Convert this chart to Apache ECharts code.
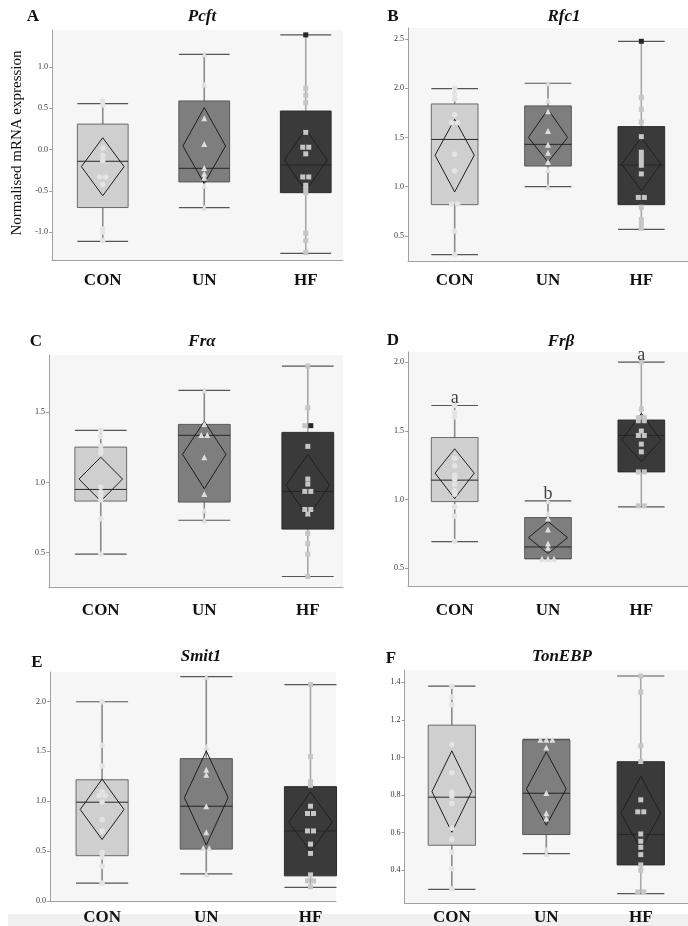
<!DOCTYPE html>
<html>
<head>
<meta charset="utf-8">
<script src="https://cdn.jsdelivr.net/npm/echarts@6/dist/echarts.min.js"></script>
<style>
  html, body { margin: 0; padding: 0; background: #ffffff; }
  #chart { width: 688px; height: 926px; }
</style>
</head>
<body>
<div id="chart"></div>
<script>
// Groups and panel titles
const groups = ['CON', 'UN', 'HF'];
const panelLetters = ['A', 'B', 'C', 'D', 'E', 'F'];
const geneNames = ['Pcft', 'Rfc1', 'Frα', 'Frβ', 'Smit1', 'TonEBP'];
const yAxisTitle = 'Normalised mRNA expression';

// Box statistics per group: [lower whisker, Q1, median, Q3, upper whisker]
const boxA = [[-1.11, -0.70, -0.14, 0.31, 0.557], [-0.70, -0.39, -0.225, 0.59, 1.155], [-1.255, -0.52, -0.185, 0.468, 1.39]];
const boxB = [[0.31, 0.818, 1.48, 1.84, 1.995], [1.0, 1.21, 1.43, 1.82, 2.05], [0.568, 0.818, 1.22, 1.61, 2.476]];
const boxC = [[0.488, 0.867, 0.95, 1.252, 1.371], [0.73, 0.86, 1.336, 1.414, 1.657], [0.329, 0.667, 0.936, 1.357, 1.83]];
const boxD = [[0.694, 0.985, 1.141, 1.451, 1.684], [0.57, 0.57, 0.655, 0.869, 0.99], [0.947, 1.201, 1.466, 1.578, 2.0]];
const boxE = [[0.179, 0.454, 0.99, 1.215, 1.997], [0.271, 0.52, 0.95, 1.427, 2.248], [0.136, 0.252, 0.702, 1.146, 2.169]];
const boxF = [[0.297, 0.532, 0.788, 1.172, 1.38], [0.487, 0.589, 0.809, 1.092, 1.096], [0.274, 0.427, 0.59, 0.977, 1.434]];

// Mean diamonds per group: [lower 95% CI, mean, upper 95% CI]
const meanA = [[-0.557, -0.205, 0.145], [-0.41, 0.045, 0.51], [-0.50, -0.125, 0.25]];
const meanB = [[0.947, 1.32, 1.685], [1.25, 1.50, 1.786], [0.96, 1.23, 1.50]];
const meanC = [[0.867, 1.024, 1.18], [0.955, 1.2, 1.436], [0.752, 0.979, 1.2]];
const meanD = [[1.007, 1.192, 1.369], [0.607, 0.723, 0.84], [1.277, 1.432, 1.626]];
const meanE = [[0.616, 0.917, 1.222], [0.56, 1.036, 1.503], [0.497, 0.791, 1.093]];
const meanF = [[0.601, 0.818, 1.035], [0.638, 0.832, 1.03], [0.512, 0.702, 0.9]];

// Individual samples per group (CON, UN, HF)
const ptsA = [
  [0.59, 0.54, 0.02, -0.07, -0.13, -0.33, -0.33, -0.42, -0.96, -1.0, -1.10],
  [1.155, 0.79, 0.38, 0.07, -0.22, -0.29, -0.34, -0.44, -0.70],
  [1.39, 0.745, 0.66, 0.57, 0.21, 0.03, 0.03, -0.05, -0.33, -0.33, -0.43, -0.47, -0.52, -1.01, -1.10, -1.245]
];
const ptsB = [
  [1.996, 1.94, 1.89, 1.73, 1.65, 1.65, 1.33, 1.16, 0.825, 0.825, 0.55, 0.31],
  [2.05, 1.874, 1.766, 1.566, 1.427, 1.346, 1.25, 1.17, 1.0],
  [2.476, 1.904, 1.786, 1.656, 1.508, 1.35, 1.305, 1.26, 1.218, 1.13, 0.891, 0.891, 0.792, 0.668, 0.625, 0.577]
];
const ptsC = [
  [1.371, 1.33, 1.26, 1.23, 1.21, 0.965, 0.93, 0.907, 0.874, 0.74, 0.488],
  [1.657, 1.417, 1.338, 1.338, 1.18, 0.917, 0.80, 0.73],
  [1.83, 1.533, 1.405, 1.405, 1.257, 1.024, 0.988, 0.936, 0.936, 0.807, 0.807, 0.774, 0.636, 0.564, 0.488, 0.329]
];
const ptsD = [
  [1.684, 1.633, 1.60, 1.30, 1.245, 1.177, 1.148, 1.109, 1.063, 1.039, 0.947, 0.879, 0.694],
  [0.99, 0.898, 0.862, 0.782, 0.68, 0.65, 0.57, 0.57, 0.57],
  [2.0, 1.658, 1.595, 1.595, 1.573, 1.573, 1.498, 1.466, 1.466, 1.403, 1.347, 1.201, 1.201, 0.954, 0.954]
];
const ptsE = [
  [1.997, 1.56, 1.354, 1.096, 1.056, 1.056, 0.993, 0.815, 0.702, 0.487, 0.44, 0.348, 0.179],
  [2.248, 1.546, 1.315, 1.265, 0.95, 0.689, 0.53, 0.53, 0.271],
  [2.169, 1.447, 1.195, 1.159, 0.95, 0.877, 0.877, 0.702, 0.702, 0.57, 0.477, 0.262, 0.202, 0.202, 0.142]
];
const ptsF = [
  [1.38, 1.322, 1.281, 1.069, 0.918, 0.816, 0.795, 0.754, 0.622, 0.565, 0.494, 0.407, 0.30],
  [1.094, 1.094, 1.094, 1.053, 0.811, 0.702, 0.674, 0.507, 0.487],
  [1.434, 1.348, 1.062, 0.978, 0.774, 0.71, 0.71, 0.592, 0.553, 0.521, 0.482, 0.427, 0.398, 0.283, 0.283]
];

// Samples flagged in the HF group (drawn dark): [panel index, value]
const flaggedHF = [[0, 1.39], [1, 2.476], [2, 1.405]];

// Significance letters above the Frβ groups
const lettersD = ['a', 'b', 'a'];

// Y tick labels per panel
const ticksA = [-1.0, -0.5, 0.0, 0.5, 1.0];
const ticksB = [0.5, 1.0, 1.5, 2.0, 2.5];
const ticksC = [0.5, 1.0, 1.5];
const ticksD = [0.5, 1.0, 1.5, 2.0];
const ticksE = [0.0, 0.5, 1.0, 1.5, 2.0];
const ticksF = [0.4, 0.6, 0.8, 1.0, 1.2, 1.4];

const boxStats = [boxA, boxB, boxC, boxD, boxE, boxF];
const meanCI = [meanA, meanB, meanC, meanD, meanE, meanF];
const samples = [ptsA, ptsB, ptsC, ptsD, ptsE, ptsF];
const yTicks = [ticksA, ticksB, ticksC, ticksD, ticksE, ticksF];

// Panel geometry and axis ranges
const layout = [
  { left: 52,  top: 30,  width: 291,   height: 230, xMax: 2.867, yMin: -1.335, yMax: 1.449, catMargin: 12, letter: [33, 17],  title: [202, 17] },
  { left: 408, top: 28,  width: 307.5, height: 233, xMax: 3,     yMin: 0.246,  yMax: 2.611, catMargin: 11, letter: [393, 17], title: [564, 17] },
  { left: 49,  top: 355, width: 294,   height: 232, xMax: 2.84,  yMin: 0.254,  yMax: 1.909, catMargin: 15, letter: [36, 342], title: [202, 342] },
  { left: 408, top: 352, width: 307.5, height: 234, xMax: 3,     yMin: 0.371,  yMax: 2.073, catMargin: 16, letter: [393, 341], title: [561, 342] },
  { left: 50,  top: 672, width: 286,   height: 231, xMax: 2.745, yMin: 0,      yMax: 2.295, catMargin: 8,  letter: [37, 663], title: [201, 657] },
  { left: 404.6, top: 670, width: 316, height: 233, xMax: 3,     yMin: 0.224,  yMax: 1.466, catMargin: 6,  letter: [391, 659], title: [562, 657] }
];

const SERIF = '"Liberation Serif", "Times New Roman", Times, serif';
const boxFills = ['#cfcfcf', '#7e7e7e', '#3a3a3a'];
const boxEdges = ['#6a6a6a', '#585858', '#2c2c2c'];
const stemColors = ['#8a8a8a', '#8a8a8a', '#a8a8a8'];
const pointFills = ['#e4e4e4', '#dedede', '#c6c6c6'];
const pointSymbols = ['circle', 'triangle', 'rect'];
const pointSizes = [5.5, 6, 5];
const axisGray = '#a0a0a0';

// Box, whiskers, median and mean diamond drawn from the axis scales
function renderBox(params, api) {
  const x = api.value(0);
  const lo = api.value(1), q1 = api.value(2), med = api.value(3), q3 = api.value(4), hi = api.value(5);
  const ciLo = api.value(6), mean = api.value(7), ciHi = api.value(8);
  const gi = params.dataIndex;
  const unit = api.size([1, 0])[0];
  const half = unit * 0.25;
  const dHalf = unit * 0.21;
  const cx = api.coord([x, mean])[0];
  const y = v => api.coord([x, v])[1];
  return {
    type: 'group',
    children: [
      { type: 'line', shape: { x1: cx, y1: y(hi), x2: cx, y2: y(lo) },
        style: { stroke: stemColors[gi], lineWidth: 1.6 } },
      { type: 'rect', shape: { x: cx - half, y: y(q3), width: half * 2, height: y(q1) - y(q3) },
        style: { fill: boxFills[gi], stroke: boxEdges[gi], lineWidth: 1 } },
      { type: 'line', shape: { x1: cx - half, y1: y(med), x2: cx + half, y2: y(med) },
        style: { stroke: '#262626', lineWidth: 1 } },
      { type: 'polygon', shape: { points: [[cx, y(ciHi)], [cx + dHalf, y(mean)], [cx, y(ciLo)], [cx - dHalf, y(mean)]] },
        style: { fill: 'transparent', stroke: '#1e1e1e', lineWidth: 1 } },
      { type: 'line', shape: { x1: cx - half, y1: y(hi), x2: cx + half, y2: y(hi) },
        style: { stroke: '#555555', lineWidth: 1.2 } },
      { type: 'line', shape: { x1: cx - half, y1: y(lo), x2: cx + half, y2: y(lo) },
        style: { stroke: '#555555', lineWidth: 1.2 } }
    ]
  };
}

// Spread tied values side by side
function samplePoints(p, gi) {
  const vals = samples[p][gi];
  const counts = {};
  vals.forEach(v => { counts[v] = (counts[v] || 0) + 1; });
  const seen = {};
  return vals.map(v => {
    const n = counts[v];
    const k = seen[v] || 0;
    seen[v] = k + 1;
    const off = (k - (n - 1) / 2) * 6;
    const flagged = gi === 2 && k === n - 1 && flaggedHF.some(f => f[0] === p && f[1] === v);
    const item = { value: [gi + 0.5, v], symbolOffset: [off, 0] };
    if (flagged) item.itemStyle = { color: '#262626' };
    return item;
  });
}

const grids = [], xAxes = [], yAxes = [], series = [], graphics = [];

layout.forEach((L, p) => {
  grids.push({ left: L.left, top: L.top, width: L.width, height: L.height,
    show: true, backgroundColor: '#f6f6f6', borderWidth: 0, containLabel: false });

  xAxes.push({
    type: 'value', gridIndex: p, min: 0, max: L.xMax,
    axisLine: { show: true, onZero: false, lineStyle: { color: axisGray, width: 1 } },
    axisTick: { show: false },
    splitLine: { show: false },
    axisLabel: {
      customValues: [0.5, 1.5, 2.5],
      formatter: v => groups[Math.floor(v)],
      fontFamily: SERIF, fontWeight: 'bold', fontSize: 17, color: '#111111',
      margin: L.catMargin
    }
  });

  yAxes.push({
    type: 'value', gridIndex: p, min: L.yMin, max: L.yMax,
    axisLine: { show: true, lineStyle: { color: axisGray, width: 1 } },
    axisTick: { show: true, length: 3, customValues: yTicks[p], lineStyle: { color: axisGray } },
    splitLine: { show: false },
    axisLabel: {
      customValues: yTicks[p],
      formatter: v => v.toFixed(1),
      fontFamily: SERIF, fontSize: 8, color: '#333333', margin: 4
    }
  });

  series.push({
    type: 'custom', xAxisIndex: p, yAxisIndex: p, silent: true, z: 2,
    renderItem: renderBox,
    encode: { x: 0, y: [1, 2, 3, 4, 5] },
    data: groups.map((g, gi) => [gi + 0.5, ...boxStats[p][gi], ...meanCI[p][gi]])
  });

  groups.forEach((g, gi) => {
    series.push({
      type: 'scatter', xAxisIndex: p, yAxisIndex: p, silent: true, z: 3,
      symbol: pointSymbols[gi], symbolSize: pointSizes[gi],
      itemStyle: { color: pointFills[gi], opacity: 1 },
      data: samplePoints(p, gi)
    });
  });

  graphics.push({
    type: 'text', x: L.letter[0], y: L.letter[1],
    style: { text: panelLetters[p], font: 'bold 17px ' + SERIF, fill: '#111111',
      textAlign: 'center', textVerticalAlign: 'middle', align: 'center', verticalAlign: 'middle' }
  });
  graphics.push({
    type: 'text', x: L.title[0], y: L.title[1],
    style: { text: geneNames[p], font: 'italic bold 17px ' + SERIF, fill: '#111111',
      textAlign: 'center', textVerticalAlign: 'middle', align: 'center', verticalAlign: 'middle' }
  });
});

// Significance letters sit on the upper whisker of each Frβ group
series.push({
  type: 'scatter', xAxisIndex: 3, yAxisIndex: 3, silent: true, z: 4,
  symbolSize: 0,
  data: boxD.map((b, gi) => [gi + 0.5, b[4]]),
  label: {
    show: true, position: 'top', distance: -2,
    formatter: prm => lettersD[prm.dataIndex],
    fontFamily: SERIF, fontSize: 18, color: '#111111'
  }
});

graphics.push({
  type: 'text', x: 17, y: 143, rotation: Math.PI / 2,
  style: { text: yAxisTitle, font: '15px ' + SERIF, fill: '#111111',
    textAlign: 'center', textVerticalAlign: 'middle', align: 'center', verticalAlign: 'middle' }
});
graphics.push({
  type: 'rect', z: -10, shape: { x: 8, y: 914, width: 680, height: 12 },
  style: { fill: '#f0f0f0' }
});

const chart = echarts.init(document.getElementById('chart'), null, { renderer: 'canvas' });
chart.setOption({
  animation: false,
  backgroundColor: '#ffffff',
  grid: grids,
  xAxis: xAxes,
  yAxis: yAxes,
  series: series,
  graphic: { elements: graphics }
});
</script>
</body>
</html>
